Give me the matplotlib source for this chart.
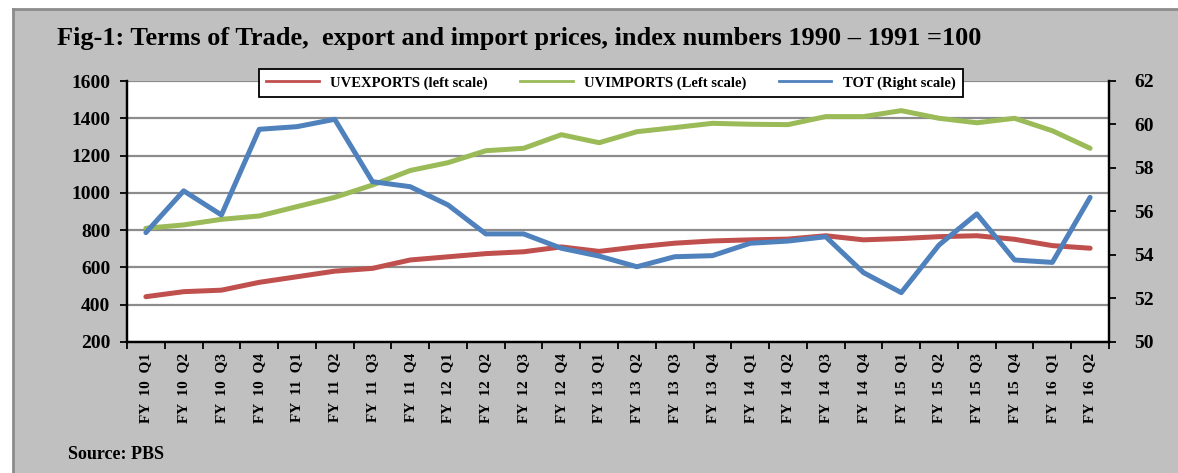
"""
Fig-1: Terms of Trade, export and import prices (index numbers 1990-1991 = 100).
"""

import matplotlib
matplotlib.use("Agg")
import matplotlib.pyplot as plt
from matplotlib.lines import Line2D
from matplotlib.patches import Rectangle

#########################################################################################

# DATA

quarters = ["FY 10 Q1", "FY 10 Q2", "FY 10 Q3", "FY 10 Q4",
            "FY 11 Q1", "FY 11 Q2", "FY 11 Q3", "FY 11 Q4",
            "FY 12 Q1", "FY 12 Q2", "FY 12 Q3", "FY 12 Q4",
            "FY 13 Q1", "FY 13 Q2", "FY 13 Q3", "FY 13 Q4",
            "FY 14 Q1", "FY 14 Q2", "FY 14 Q3", "FY 14 Q4",
            "FY 15 Q1", "FY 15 Q2", "FY 15 Q3", "FY 15 Q4",
            "FY 16 Q1", "FY 16 Q2"]

uv_exports = [443, 470, 478, 520, 550, 580, 595, 640, 657, 674, 684, 710, 686,
              710, 730, 742, 748, 752, 770, 748, 755, 765, 770, 751, 717, 703]

uv_imports = [810, 828, 858, 876, 926, 976, 1042, 1120, 1162, 1226, 1239, 1312,
              1269, 1328, 1350, 1373, 1368, 1366, 1409, 1409, 1441, 1400, 1376,
              1400, 1333, 1239]

tot = [55.03, 56.95, 55.84, 59.78, 59.90, 60.24, 57.37, 57.14, 56.30, 54.97,
       54.97, 54.31, 53.95, 53.46, 53.92, 53.97, 54.54, 54.64, 54.84, 53.19,
       52.27, 54.46, 55.89, 53.77, 53.66, 56.65]

left_ticks = [200, 400, 600, 800, 1000, 1200, 1400, 1600]
right_ticks = [50, 52, 54, 56, 58, 60, 62]

#########################################################################################

RED = "#C0504D"
GREEN = "#9BBB59"
BLUE = "#4F81BD"
PANEL = "#C0C0C0"

plt.rcParams["font.family"] = ["Liberation Serif", "DejaVu Serif"]
plt.rcParams["font.weight"] = "bold"

fig = plt.figure(figsize=(11.78, 4.73), dpi=100)
fig.patch.set_facecolor("white")

# grey panel behind everything, with a darker edge at top and left
fig.patches.append(Rectangle((13 / 1178, 0), 1.0, 1 - 9 / 473,
                             transform=fig.transFigure, facecolor=PANEL,
                             edgecolor="none", zorder=-10))
fig.lines.append(Line2D([13 / 1178, 13 / 1178], [0, 1 - 9 / 473],
                        transform=fig.transFigure, color="#8C8C8C", lw=2,
                        zorder=-9))
fig.lines.append(Line2D([13 / 1178, 1], [1 - 9 / 473, 1 - 9 / 473],
                        transform=fig.transFigure, color="#8C8C8C", lw=2,
                        zorder=-9))

ax = fig.add_axes([127 / 1178, 1 - 342 / 473, (1109 - 127) / 1178, (342 - 81) / 473])
ax.set_facecolor("white")
x = list(range(len(quarters)))

ax.plot(x, uv_exports, color=RED, lw=3.6, solid_capstyle="round", zorder=3)
ax.plot(x, uv_imports, color=GREEN, lw=3.6, solid_capstyle="round", zorder=3)
ax.set_ylim(200, 1600)
ax.set_xlim(-0.5, len(quarters) - 0.5)
ax.set_yticks(left_ticks)
ax.grid(axis="y", color="#8C8C8C", lw=1.6)
ax.set_axisbelow(True)

ax2 = ax.twinx()
ax2.plot(x, tot, color=BLUE, lw=3.6, solid_capstyle="round", zorder=4)
ax2.set_ylim(50, 62)
ax2.set_yticks(right_ticks)

# category ticks sit between the quarters, labels at the centres
ax.set_xticks([i - 0.5 for i in range(len(quarters) + 1)])
ax.set_xticklabels([])
ax.set_xticks(x, minor=True)
ax.set_xticklabels([q.replace(" ", "  ") for q in quarters], minor=True,
                   rotation=90, fontsize=11, fontweight="bold")
ax.tick_params(axis="x", which="minor", length=0, pad=8)
ax.tick_params(axis="x", which="major", length=5, width=1.3, direction="out")

ax.tick_params(axis="y", length=5, width=1.3, labelsize=14, pad=7)
ax2.tick_params(axis="y", length=5, width=1.3, labelsize=14, pad=13)

for a in (ax, ax2):
    a.spines["top"].set_visible(False)
    for side in ("left", "right", "bottom"):
        a.spines[side].set_linewidth(1.6)
        a.spines[side].set_color("black")

handles = [Line2D([], [], color=RED, lw=2),
           Line2D([], [], color=GREEN, lw=2),
           Line2D([], [], color=BLUE, lw=2)]
labels = ["UVEXPORTS (left scale)", "UVIMPORTS (Left scale)", "TOT (Right scale)"]
leg = fig.legend(handles, labels, loc="center", ncol=3,
                 bbox_to_anchor=(611 / 1178, 1 - 83 / 473),
                 prop={"size": 10.5, "weight": "bold"}, frameon=True,
                 fancybox=False, edgecolor="black", facecolor="white",
                 framealpha=1, handlelength=3.6, handletextpad=0.8,
                 columnspacing=2.2, borderpad=0.5)
leg.get_frame().set_linewidth(1.3)
leg.set_zorder(10)

fig.text(57 / 1178, 1 - 39 / 473,
         "Fig-1: Terms of Trade,  export and import prices, index numbers 1990 \u2013 1991 =100",
         fontsize=18.9, fontweight="bold", va="center", ha="left")
fig.text(68 / 1178, 1 - 454 / 473, "Source: PBS", fontsize=13,
         fontweight="bold", va="center", ha="left")

fig.savefig("out.png", dpi=100, facecolor=fig.get_facecolor())
